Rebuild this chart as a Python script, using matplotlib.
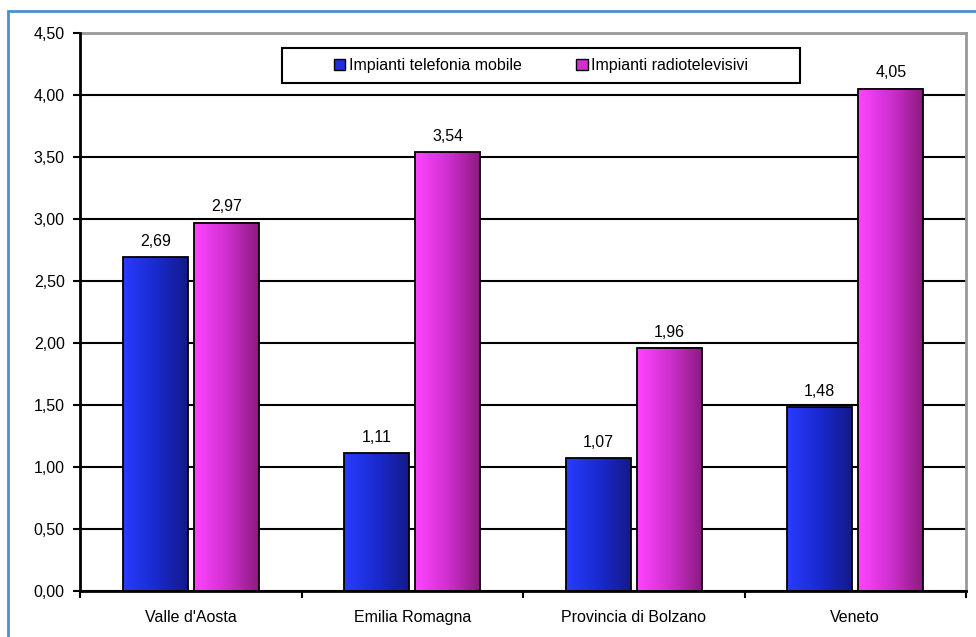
import numpy as np
import matplotlib
matplotlib.use("Agg")
import matplotlib.pyplot as plt
from matplotlib.colors import LinearSegmentedColormap
from matplotlib.patches import Rectangle

plt.rcParams['font.family'] = ['Liberation Sans', 'DejaVu Sans']

categories = ["Valle d'Aosta", "Emilia Romagna", "Provincia di Bolzano", "Veneto"]
mobile = [2.69, 1.11, 1.07, 1.48]
radio_tv = [2.97, 3.54, 1.96, 4.05]
series_names = ["Impianti telefonia mobile", "Impianti radiotelevisivi"]
yticks = [0.0, 0.5, 1.0, 1.5, 2.0, 2.5, 3.0, 3.5, 4.0, 4.5]

FS = 11.5
W, H = 976, 637
fig = plt.figure(figsize=(W / 100, H / 100), dpi=100)
ax_l, ax_r, ax_t, ax_b = 80, 966, 33, 591
ax = fig.add_axes([ax_l / W, 1 - ax_b / H, (ax_r - ax_l) / W, (ax_b - ax_t) / H])

# outer frame
fig.patches.append(Rectangle((8 / W, -0.1), 1.2, 1 - 11 / H + 0.1,
                             transform=fig.transFigure, fill=False,
                             edgecolor='#4a8fd4', linewidth=2, zorder=0))

x = np.arange(len(categories))
width = 0.293
offset = 0.16

grad = np.linspace(0, 1, 256).reshape(1, -1)
cmap_blue = LinearSegmentedColormap.from_list('b', ['#2a3cff', '#1a2ad0', '#141a88'])
cmap_mag = LinearSegmentedColormap.from_list('m', ['#ff44ff', '#d030d0', '#8c1a80'])


def draw_series(vals, dx, cmap, label, legend_color):
    bars = ax.bar(x + dx, vals, width, facecolor='none', edgecolor='black',
                  linewidth=1.3, zorder=4)
    for b, v in zip(bars, vals):
        x0, w, h = b.get_x(), b.get_width(), b.get_height()
        ax.imshow(grad, cmap=cmap, aspect='auto', extent=(x0, x0 + w, 0, h),
                  zorder=3, interpolation='bilinear')
        ax.annotate(f"{v:.2f}".replace('.', ','), (x0 + w / 2, h),
                    xytext=(0, 6), textcoords='offset points',
                    ha='center', va='bottom', fontsize=FS, zorder=5,
                    bbox=dict(facecolor='white', edgecolor='none', pad=1.5))
    # proxy for legend
    ax.bar([0], [0], 0, facecolor=legend_color, edgecolor='black',
           linewidth=1, label=label)


draw_series(mobile, -offset, cmap_blue, series_names[0], '#1f2fe0')
draw_series(radio_tv, offset, cmap_mag, series_names[1], '#d030d0')

ax.set_xlim(-0.5, len(categories) - 0.5)
ax.set_ylim(0, 4.5)
ax.set_yticks(yticks)
ax.set_yticklabels([f"{t:.2f}".replace('.', ',') for t in yticks], fontsize=FS)
ax.set_xticks(x)
ax.set_xticklabels(categories, fontsize=FS)
ax.tick_params(axis='x', length=0, pad=14)
ax.tick_params(axis='y', length=5, width=1.5, direction='out', pad=6)

# category separator ticks on the x axis
ax.set_xticks(np.arange(len(categories) + 1) - 0.5, minor=True)
ax.tick_params(axis='x', which='minor', length=5, width=1.5, direction='out')

ax.yaxis.grid(True, color='black', linewidth=1.5, zorder=1)
ax.set_axisbelow(True)
for s in ['left', 'bottom']:
    ax.spines[s].set_linewidth(2)
    ax.spines[s].set_color('black')
    ax.spines[s].set_zorder(6)
for s in ['top', 'right']:
    ax.spines[s].set_linewidth(2)
    ax.spines[s].set_color('#999999')

# legend box
pw, ph = ax_r - ax_l, ax_b - ax_t
lx0, lx1, ly0, ly1 = 282, 800, 48, 83
box = Rectangle(((lx0 - ax_l) / pw, 1 - (ly1 - ax_t) / ph),
                (lx1 - lx0) / pw, (ly1 - ly0) / ph,
                transform=ax.transAxes, facecolor='white', edgecolor='black',
                linewidth=1.5, zorder=9)
ax.add_patch(box)
leg = ax.legend(loc='center',
                bbox_to_anchor=(((lx0 + lx1) / 2 - ax_l) / pw,
                                1 - ((ly0 + ly1) / 2 - ax_t) / ph),
                ncol=2, frameon=False, fontsize=FS, handlelength=0.7,
                handleheight=0.7, handletextpad=0.2, borderaxespad=0,
                columnspacing=3.45)
leg.set_zorder(10)

fig.savefig('out.png', dpi=100)
